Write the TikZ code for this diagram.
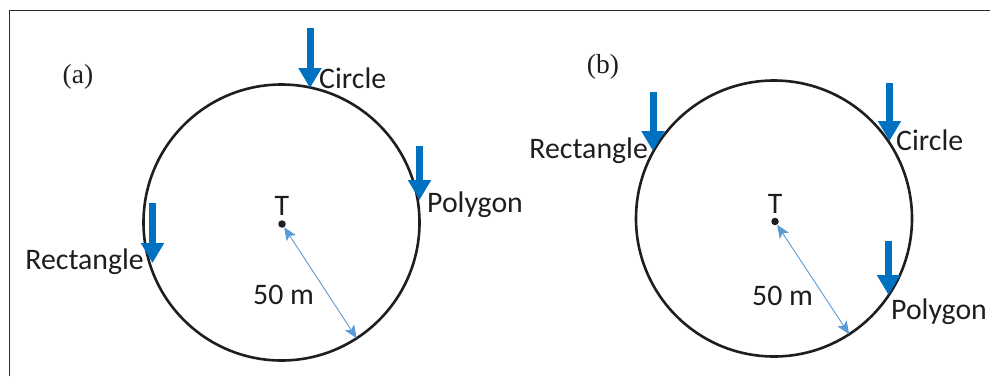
\documentclass[tikz,border=0pt]{standalone}
\usepackage{fontspec}
\setmainfont{Carlito}
\newfontfamily\panelfont{Liberation Serif}
\usetikzlibrary{positioning,arrows.meta,calc}
\definecolor{cload}{RGB}{0,112,192}
\definecolor{cradius}{RGB}{91,155,213}
\definecolor{cink}{RGB}{30,30,30}
\definecolor{cframe}{RGB}{45,45,45}

\begin{document}
\begin{tikzpicture}[
  x=1pt,y=-1pt,
  font=\fontsize{29.8}{31}\selectfont,
  zone/.style={circle,draw=cink,line width=2.6pt,minimum size=276pt,inner sep=0pt,outer sep=0pt},
  target/.style={circle,fill=cink,minimum size=7.5pt,inner sep=0pt},
  load/.style={cload,line width=7pt,-{Triangle[width=22pt,length=20pt]}},
  radius/.style={cradius,line width=0.9pt,
    {Stealth[length=13pt,width=11pt,inset=3pt]}-{Stealth[length=13pt,width=11pt,inset=3pt]}},
  lbl/.style={text=cink,inner sep=0pt},
  panel/.style={text=cink,inner sep=0pt,font=\panelfont\fontsize{27.5}{29}\selectfont},
]
\useasboundingbox (0,0) rectangle (990,376);

% ===== frame =====
\draw[cframe,line width=1pt] (9.5,376) -- (9.5,10.5) -- (990,10.5);

% ===== (a) =====
\node[panel] (pa) at (78,77) {(a)};
\node[zone] (ca) at (281.5,222.5) {};
\node[target] (ta) at (282,224) {};
\node[lbl,above=4pt of ta] (tla) {T};
\draw[radius] (ta) -- (ca.-57);
\node[lbl,anchor=base west] (ra) at (253,304) {50 m};

\coordinate (a1s) at (310,28);   \coordinate (a1e) at (310,88);
\coordinate (a2s) at (419.5,146); \coordinate (a2e) at (419.5,200);
\coordinate (a3s) at (152.5,203); \coordinate (a3e) at (152.5,263);
\draw[load] (a1s) -- (a1e);
\draw[load] (a2s) -- (a2e);
\draw[load] (a3s) -- (a3e);
\node[lbl,anchor=base west] (la1) at (319,88) {Circle};
\node[lbl,anchor=base west] (la2) at (427,212) {Polygon};
\node[lbl,anchor=base east] (la3) at (144,269) {Rectangle};

% ===== (b) =====
\node[panel] (pb) at (603,67) {(b)};
\node[zone] (cb) at (774,218.5) {};
\node[target] (tb) at (775,221.5) {};
\node[lbl,above=4pt of tb] (tlb) {T};
\draw[radius] (tb) -- (cb.-57.7);
\node[lbl,anchor=base west] (rb) at (752,305) {50 m};

\coordinate (b1s) at (653,92);   \coordinate (b1e) at (653,151);
\coordinate (b2s) at (889.5,83); \coordinate (b2e) at (889.5,141);
\coordinate (b3s) at (888.5,241); \coordinate (b3e) at (888.5,295);
\draw[load] (b1s) -- (b1e);
\draw[load] (b2s) -- (b2e);
\draw[load] (b3s) -- (b3e);
\node[lbl,anchor=base east] (lb1) at (648,158.5) {Rectangle};
\node[lbl,anchor=base west] (lb2) at (896,150.5) {Circle};
\node[lbl,anchor=base west] (lb3) at (891,319) {Polygon};

\end{tikzpicture}
\end{document}
